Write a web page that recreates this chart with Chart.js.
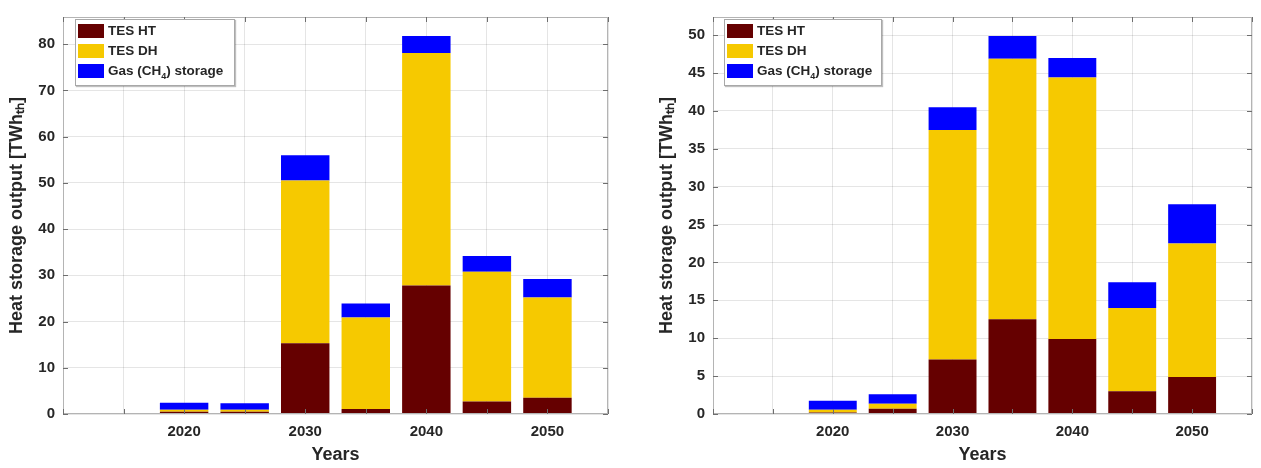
<!DOCTYPE html>
<html>
<head>
<meta charset="utf-8">
<script src="https://cdn.jsdelivr.net/npm/chart.js@4.4.1/dist/chart.umd.min.js"></script>
<style>
  body { margin: 0; background: #fff; }
  #page { position: relative; width: 1261px; height: 468px; overflow: hidden; }
  .box { position: absolute; top: 0; height: 468px; }
  .legend {
    position: absolute; top: 19px; height: 67px; box-sizing: border-box;
    background: #fff; border: 1px solid #a8a8a8;
    box-shadow: 1px 1px 1px rgba(0,0,0,0.25);
    font: bold 13.5px "Liberation Sans", Arial, sans-serif; color: #262626;
  }
  .legend div { position: absolute; left: 2px; height: 14px; line-height: 14px; white-space: nowrap; }
  .legend span { display: inline-block; width: 26px; height: 14px; vertical-align: top; margin-right: 4px; }
</style>
</head>
<body>
<div id="page">
  <div class="box" style="left:0;width:630px"><canvas id="HeatStorageA" width="630" height="468"></canvas></div>
  <div class="box" style="left:630px;width:631px"><canvas id="HeatStorageB" width="631" height="468"></canvas></div>
  <div class="legend" id="legendA" style="left:75px;width:160px"></div>
  <div class="legend" id="legendB" style="left:724px;width:158px"></div>
</div>
<script>
//
//
// Data
var years = [2020, 2025, 2030, 2035, 2040, 2045, 2050];
var x_tick_labels = ['2020', '2030', '2040', '2050'];
var series_names = ['TES HT', 'TES DH', 'Gas (CH\u2084) storage'];

// left chart
var tes_ht_a = [0.5, 0.5, 15.3, 1.1, 27.8, 2.7, 3.5];
var tes_dh_a = [0.4, 0.4, 35.2, 19.8, 50.3, 28.1, 21.7];
var gas_a = [1.55, 1.4, 5.5, 3.0, 3.7, 3.4, 4.0];

// right chart
var tes_ht_b = [0.2, 0.7, 7.2, 12.5, 9.9, 3.0, 4.9];
var tes_dh_b = [0.35, 0.65, 30.3, 34.4, 34.5, 11.0, 17.6];
var gas_b = [1.2, 1.25, 3.0, 3.0, 2.6, 3.4, 5.2];

var colors = ['#650000', '#f6c900', '#0000ff'];
var font_family = '"Liberation Sans", Arial, Helvetica, sans-serif';
var text_color = '#262626';

//
//
// Frame and inner tick marks (like matlab box on)
var framePlugin = {
  id: 'frame',
  afterDraw: function(chart){
    var ctx = chart.ctx;
    var a = chart.chartArea;
    ctx.save();
    ctx.strokeStyle = '#b4b4b4';
    ctx.lineWidth = 1;
    ctx.strokeRect(a.left + 0.5, a.top + 0.5, a.right - a.left - 1, a.bottom - a.top - 1);

    ctx.strokeStyle = '#6e6e6e';
    ctx.beginPath();
    chart.scales.x.ticks.forEach(function(t){
      var px = Math.round(chart.scales.x.getPixelForValue(t.value)) + 0.5;
      ctx.moveTo(px, a.bottom); ctx.lineTo(px, a.bottom - 5);
      ctx.moveTo(px, a.top); ctx.lineTo(px, a.top + 5);
    });
    chart.scales.y.ticks.forEach(function(t){
      var py = Math.round(chart.scales.y.getPixelForValue(t.value)) + 0.5;
      ctx.moveTo(a.left, py); ctx.lineTo(a.left + 5, py);
      ctx.moveTo(a.right, py); ctx.lineTo(a.right - 5, py);
    });
    ctx.stroke();
    ctx.restore();
  }
};

//
//
// Draw Chart
function drawHeatStorage(canvas_id, legend_id, ht, dh, gas, y_max, y_step, pad_left, pad_right){

  var ctx = document.getElementById(canvas_id).getContext('2d');
  var values = [ht, dh, gas];

  var datasets = values.map(function(serie, s){
    return {
      label: series_names[s],
      data: years.map(function(yr, i){ return { x: yr, y: serie[i] }; }),
      backgroundColor: colors[s],
      borderWidth: 0,
      barPercentage: 0.8,
      categoryPercentage: 1.0
    };
  });

  var chart = new Chart(ctx, {
    type: 'bar',
    data: { datasets: datasets },
    plugins: [framePlugin],
    options: {
      responsive: false,
      animation: false,
      layout: { padding: { left: pad_left, right: pad_right, top: 7, bottom: 0 } },
      plugins: {
        legend: { display: false },
        tooltip: { enabled: false }
      },
      scales: {
        x: {
          type: 'linear',
          stacked: true,
          offset: false,
          min: 2010,
          max: 2055,
          z: 1,
          afterFit: function(scale){ scale.height = 54; },
          grid: { offset: false, drawTicks: false, color: 'rgba(38,38,38,0.12)' },
          border: { display: false },
          ticks: {
            stepSize: 5,
            autoSkip: false,
            maxRotation: 0,
            padding: 9,
            color: text_color,
            font: { family: font_family, size: 15, weight: 'bold' },
            callback: function(v){
              var label = String(v);
              return x_tick_labels.indexOf(label) >= 0 ? label : '';
            }
          },
          title: {
            display: true,
            text: 'Years',
            color: text_color,
            padding: { top: 0, bottom: 2 },
            font: { family: font_family, size: 18, weight: 'bold' }
          }
        },
        y: {
          stacked: true,
          min: 0,
          max: y_max,
          z: 1,
          afterFit: function(scale){ scale.width = 63; },
          grid: { drawTicks: false, color: 'rgba(38,38,38,0.12)' },
          border: { display: false },
          ticks: {
            stepSize: y_step,
            includeBounds: false,
            padding: 8,
            color: text_color,
            font: { family: font_family, size: 15, weight: 'bold' }
          },
          title: {
            display: true,
            text: 'Heat storage output [TWh\u209c\u2095]',
            color: text_color,
            padding: { top: 6, bottom: 0 },
            font: { family: font_family, size: 18, weight: 'bold' }
          }
        }
      }
    }
  });

  //
  // Legend (html, built from the datasets)
  var legend = document.getElementById(legend_id);
  chart.data.datasets.forEach(function(ds, i){
    var row = document.createElement('div');
    row.style.top = (4 + i * 20) + 'px';
    row.innerHTML = '<span style="background:' + ds.backgroundColor + '"></span>' + ds.label.replace('\u2084', '<sub style="font-size:9px;line-height:0">4</sub>');
    legend.appendChild(row);
  });

  return chart;
}

//
//
// Draw both charts
drawHeatStorage('HeatStorageA', 'legendA', tes_ht_a, tes_dh_a, gas_a, 85.9, 10, 0, 22);
drawHeatStorage('HeatStorageB', 'legendB', tes_ht_b, tes_dh_b, gas_b, 52.4, 5, 20, 3);
</script>
</body>
</html>
